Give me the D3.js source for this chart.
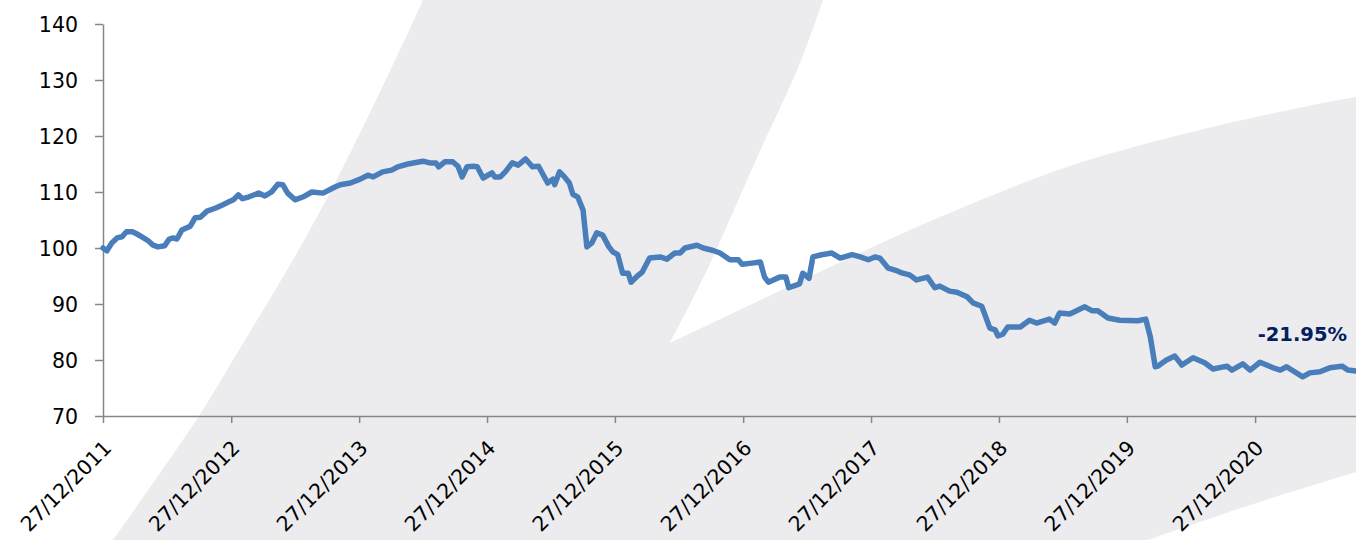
<!DOCTYPE html>
<html>
<head>
<meta charset="utf-8">
<script src="https://cdn.jsdelivr.net/npm/d3@7"></script>
<style>
  body { margin: 0; background: #fff; }
  svg { display: block; }
  .axis text { font-family: "DejaVu Sans", sans-serif; font-size: 20.5px; fill: #000; }
  .axis path, .axis line { stroke: #868686; stroke-width: 1.5; }
</style>
</head>
<body>
<svg id="chart" width="1356" height="540"></svg>
<script>
// index level
var dates = [
  "2011-12-27","2012-01-07","2012-01-21","2012-02-05","2012-02-19","2012-03-03","2012-03-20","2012-04-02",
  "2012-04-16","2012-05-04","2012-05-18","2012-06-01","2012-06-20","2012-07-03","2012-07-14","2012-07-25",
  "2012-08-08","2012-09-01","2012-09-15","2012-09-30","2012-10-19","2012-11-11","2012-12-02","2012-12-19",
  "2013-01-02","2013-01-16","2013-01-28","2013-02-14","2013-03-15","2013-04-02","2013-04-21","2013-05-09",
  "2013-05-23","2013-06-06","2013-06-27","2013-07-19","2013-08-14","2013-09-15","2013-10-19","2013-11-03",
  "2013-12-02","2013-12-30","2014-01-21","2014-02-05","2014-03-04","2014-03-30","2014-04-16","2014-05-15",
  "2014-06-27","2014-07-17","2014-08-03","2014-08-11","2014-08-29","2014-09-20","2014-10-05","2014-10-17",
  "2014-10-31","2014-11-17","2014-11-29","2014-12-16","2015-01-10","2015-01-18","2015-02-03","2015-02-17",
  "2015-03-09","2015-03-26","2015-04-16","2015-05-06","2015-05-23","2015-06-18","2015-07-03","2015-07-08",
  "2015-07-22","2015-08-05","2015-08-19","2015-08-29","2015-09-12","2015-09-27","2015-10-08","2015-10-22",
  "2015-11-05","2015-11-22","2015-12-10","2015-12-21","2016-01-04","2016-01-18","2016-02-03","2016-02-11",
  "2016-02-29","2016-03-14","2016-04-04","2016-05-04","2016-05-23","2016-06-15","2016-06-30","2016-07-14",
  "2016-08-17","2016-09-04","2016-09-30","2016-10-22","2016-11-19","2016-12-13","2016-12-24","2017-01-21",
  "2017-02-14","2017-02-26","2017-03-09","2017-04-10","2017-04-28","2017-05-06","2017-06-06","2017-06-15",
  "2017-07-03","2017-07-14","2017-08-08","2017-09-06","2017-09-30","2017-11-03","2017-11-26","2017-12-19",
  "2018-01-07","2018-01-21","2018-02-14","2018-03-12","2018-03-27","2018-04-16","2018-05-06","2018-06-06",
  "2018-06-27","2018-07-11","2018-08-08","2018-08-29","2018-09-27","2018-10-14","2018-11-08","2018-12-01",
  "2018-12-16","2018-12-24","2019-01-07","2019-01-21","2019-02-26","2019-03-24","2019-04-13","2019-05-20",
  "2019-06-04","2019-06-18","2019-07-17","2019-08-29","2019-09-18","2019-10-05","2019-11-03","2019-12-07",
  "2020-01-28","2020-02-19","2020-03-03","2020-03-17","2020-03-24","2020-04-18","2020-05-12","2020-06-01",
  "2020-07-03","2020-08-05","2020-08-29","2020-10-08","2020-10-22","2020-11-22","2020-12-13","2021-01-10",
  "2021-02-17","2021-03-09","2021-03-27","2021-05-12","2021-06-01","2021-06-30","2021-07-28","2021-09-01",
  "2021-09-18","2021-10-10"
];
var values = [
  100.0, 99.5, 100.9, 101.8, 102.0, 102.9, 102.9, 102.5,
  102.0, 101.3, 100.5, 100.2, 100.4, 101.6, 101.8, 101.6,
  103.2, 103.9, 105.4, 105.5, 106.6, 107.1, 107.7, 108.2,
  108.6, 109.5, 108.8, 109.1, 109.8, 109.3, 110.0, 111.4,
  111.3, 109.8, 108.6, 109.1, 110.0, 109.8, 110.9, 111.3,
  111.6, 112.3, 113.0, 112.7, 113.6, 113.9, 114.5, 115.0,
  115.5, 115.2, 115.2, 114.5, 115.4, 115.4, 114.6, 112.7,
  114.5, 114.6, 114.5, 112.5, 113.4, 112.7, 112.7, 113.6,
  115.2, 114.8, 115.9, 114.5, 114.6, 111.6, 112.3, 111.3,
  113.6, 112.7, 111.6, 109.6, 109.1, 106.8, 100.2, 100.9,
  102.7, 102.3, 100.2, 99.3, 98.8, 95.5, 95.5, 93.9,
  95.0, 95.7, 98.2, 98.4, 98.0, 99.1, 99.1, 100.0,
  100.5, 100.0, 99.6, 99.1, 97.9, 97.9, 97.1, 97.3,
  97.5, 94.8, 93.9, 94.8, 94.8, 92.9, 93.6, 95.5,
  94.6, 98.4, 98.8, 99.1, 98.2, 98.8, 98.4, 97.9,
  98.4, 98.2, 96.4, 95.9, 95.5, 95.2, 94.3, 94.8,
  92.9, 93.2, 92.3, 92.1, 91.3, 90.2, 89.6, 85.7,
  85.4, 84.3, 84.6, 85.9, 85.9, 87.1, 86.6, 87.3,
  86.6, 88.4, 88.2, 89.5, 88.8, 88.8, 87.5, 87.1,
  87.0, 87.3, 84.1, 78.8, 78.9, 80.0, 80.7, 79.1,
  80.4, 79.5, 78.4, 78.9, 78.2, 79.3, 78.2, 79.6,
  78.6, 78.2, 78.8, 77.0, 77.7, 77.9, 78.6, 78.9,
  78.2, 78.05
];
var tickDates = ["2011-12-27","2012-12-27","2013-12-27","2014-12-27","2015-12-27",
                 "2016-12-27","2017-12-27","2018-12-27","2019-12-27","2020-12-27"];
var yTicks = [70, 80, 90, 100, 110, 120, 130, 140];
var xEnd = "2021-10-11";

var parse = d3.timeParse("%Y-%m-%d");
var data = dates.map(function(d, i){ return { date: parse(d), value: values[i] }; });

var svg = d3.select("#chart");

// grey background swoosh, each edge smoothed on its own so the corners stay sharp
var edges = [
  [[423,0],[823,0]],
  [[823,0],[800,63],[756,160],[707,270],[670,343]],
  [[670,343],[750,305],[830,267],[933,220],[1067,167],[1200,130],[1323,103],[1356,97]],
  [[1356,97],[1356,472]],
  [[1356,472],[1250,505],[1148,540]],
  [[1148,540],[113,540]],
  [[113,540],[160,473],[199,416],[245,340],[287,270],[333,187],[400,50],[423,0]]
];
var edgeLine = d3.line().curve(d3.curveCatmullRom);
var bgPath = edges.map(function(e, i){
  var s = edgeLine(e);
  return i === 0 ? s : "L" + s.slice(1);
}).join("") + "Z";
svg.append("path")
  .attr("d", bgPath)
  .attr("fill", "#ececee");

var x = d3.scaleTime().domain([parse(dates[0]), parse(xEnd)]).range([103, 1356]);
var y = d3.scaleLinear().domain([70, 140]).range([416, 24]);

svg.append("g").attr("class", "axis")
  .attr("transform", "translate(103,0)")
  .call(d3.axisLeft(y).tickValues(yTicks).tickSize(8).tickPadding(17).tickSizeOuter(0))
  .selectAll("text").attr("dy", "0.36em");

var xg = svg.append("g").attr("class", "axis")
  .attr("transform", "translate(0,416)")
  .call(d3.axisBottom(x).tickValues(tickDates.map(parse)).tickFormat(d3.timeFormat("%d/%m/%Y"))
        .tickSize(7).tickSizeOuter(0));
xg.selectAll("text")
  .attr("y", 0).attr("dy", "0.36em")
  .attr("text-anchor", "end")
  .attr("transform", "translate(4,28) rotate(-45)");

var line = d3.line()
  .x(function(d){ return x(d.date); })
  .y(function(d){ return y(d.value); });

svg.append("path")
  .datum(data)
  .attr("d", line)
  .attr("fill", "none")
  .attr("stroke", "#4a7ebb")
  .attr("stroke-width", 5.5)
  .attr("stroke-linejoin", "round")
  .attr("stroke-linecap", "round");

var perf = (values[values.length - 1] / values[0] - 1) * 100;
svg.append("text")
  .attr("x", 1347).attr("y", 341)
  .attr("text-anchor", "end")
  .style("font-family", "DejaVu Sans, sans-serif")
  .style("font-size", "19.5px")
  .style("font-weight", "bold")
  .style("fill", "#002060")
  .text(perf.toFixed(2) + "%");
</script>
</body>
</html>
